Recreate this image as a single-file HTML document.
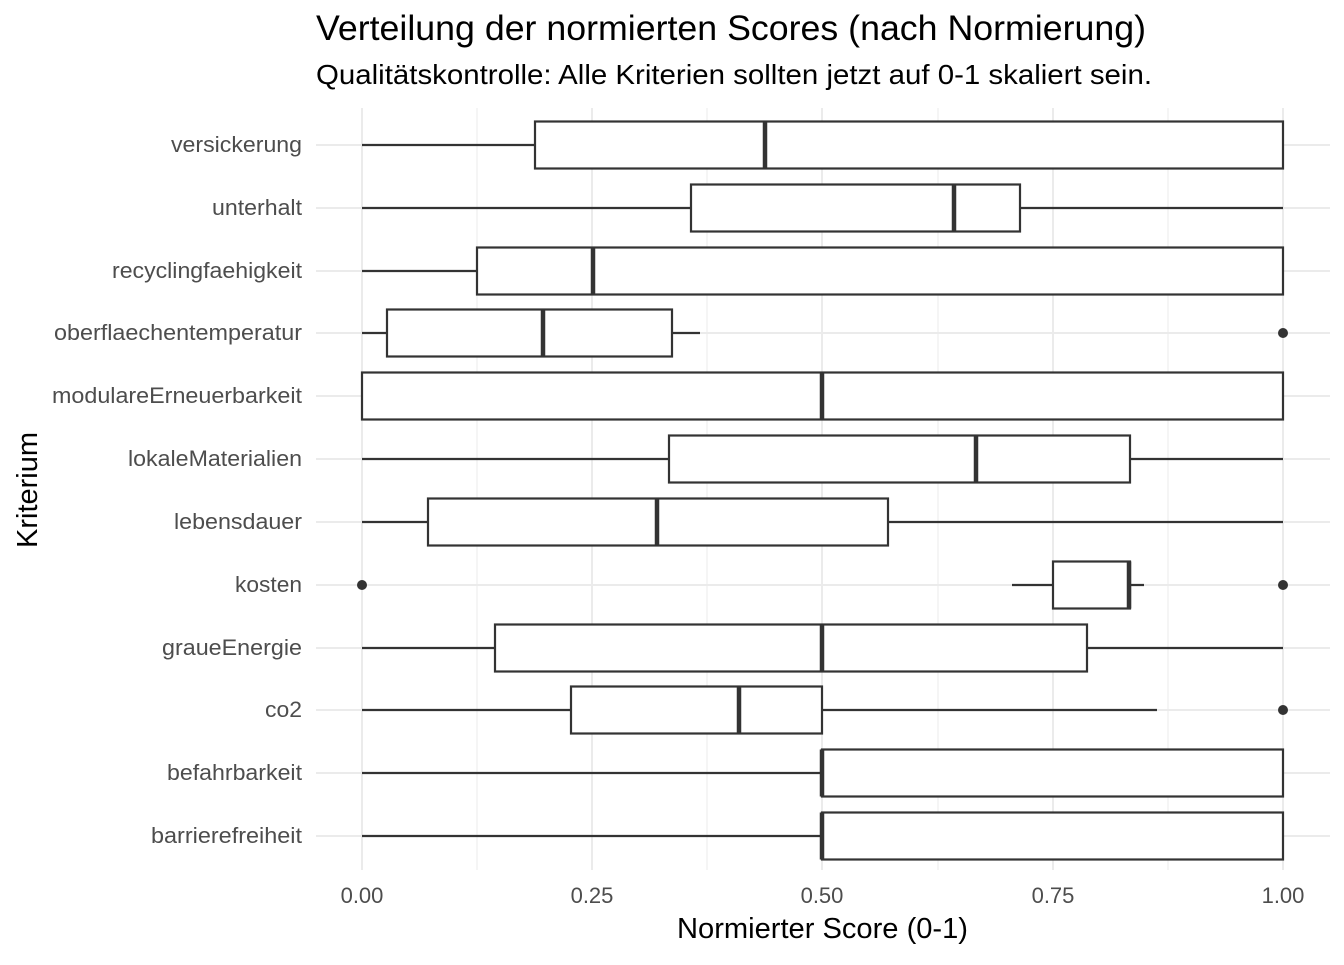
<!DOCTYPE html>
<html><head><meta charset="utf-8"><style>html,body{margin:0;padding:0;background:#fff}</style></head>
<body>
<svg width="1344" height="960" xmlns="http://www.w3.org/2000/svg" font-family="Liberation Sans, sans-serif">
<rect width="1344" height="960" fill="#fff"/>
<g stroke="#ebebeb" stroke-width="1">
<line x1="477" y1="108" x2="477" y2="870"/><line x1="707" y1="108" x2="707" y2="870"/>
<line x1="938" y1="108" x2="938" y2="870"/><line x1="1168" y1="108" x2="1168" y2="870"/>
</g>
<g stroke="#ebebeb" stroke-width="2">
<line x1="362" y1="108" x2="362" y2="870"/><line x1="592" y1="108" x2="592" y2="870"/>
<line x1="822" y1="108" x2="822" y2="870"/><line x1="1053" y1="108" x2="1053" y2="870"/>
<line x1="1283" y1="108" x2="1283" y2="870"/>
<line x1="316" y1="145" x2="1330" y2="145"/><line x1="316" y1="208" x2="1330" y2="208"/>
<line x1="316" y1="271" x2="1330" y2="271"/><line x1="316" y1="333" x2="1330" y2="333"/>
<line x1="316" y1="396" x2="1330" y2="396"/><line x1="316" y1="459" x2="1330" y2="459"/>
<line x1="316" y1="522" x2="1330" y2="522"/><line x1="316" y1="585" x2="1330" y2="585"/>
<line x1="316" y1="648" x2="1330" y2="648"/><line x1="316" y1="710" x2="1330" y2="710"/>
<line x1="316" y1="773" x2="1330" y2="773"/><line x1="316" y1="836" x2="1330" y2="836"/>
</g>
<g stroke="#333" stroke-width="2.2" fill="#fff">
<line x1="362" y1="145" x2="535" y2="145"/><rect x="535" y="121.5" width="748" height="47"/><line x1="765" y1="121.5" x2="765" y2="168.5" stroke-width="4.5"/>
<line x1="362" y1="208" x2="1283" y2="208"/><rect x="691" y="184.5" width="329" height="47"/><line x1="954" y1="184.5" x2="954" y2="231.5" stroke-width="4.5"/>
<line x1="362" y1="271" x2="477" y2="271"/><rect x="477" y="247.5" width="806" height="47"/><line x1="593" y1="247.5" x2="593" y2="294.5" stroke-width="4.5"/>
<line x1="362" y1="333" x2="700" y2="333"/><rect x="387" y="309.5" width="285" height="47"/><line x1="543" y1="309.5" x2="543" y2="356.5" stroke-width="4.5"/>
<circle cx="1283" cy="333" r="5" fill="#333" stroke="none"/>
<rect x="362" y="372.5" width="921" height="47"/><line x1="822" y1="372.5" x2="822" y2="419.5" stroke-width="4.5"/>
<line x1="362" y1="459" x2="1283" y2="459"/><rect x="669" y="435.5" width="461" height="47"/><line x1="976" y1="435.5" x2="976" y2="482.5" stroke-width="4.5"/>
<line x1="362" y1="522" x2="1283" y2="522"/><rect x="428" y="498.5" width="460" height="47"/><line x1="657" y1="498.5" x2="657" y2="545.5" stroke-width="4.5"/>
<line x1="1012" y1="585" x2="1144" y2="585"/><rect x="1053" y="561.5" width="77" height="47"/><line x1="1129" y1="561.5" x2="1129" y2="608.5" stroke-width="4.5"/>
<circle cx="362" cy="585" r="5" fill="#333" stroke="none"/><circle cx="1283" cy="585" r="5" fill="#333" stroke="none"/>
<line x1="362" y1="648" x2="1283" y2="648"/><rect x="495" y="624.5" width="592" height="47"/><line x1="822" y1="624.5" x2="822" y2="671.5" stroke-width="4.5"/>
<line x1="362" y1="710" x2="1157" y2="710"/><rect x="571" y="686.5" width="251" height="47"/><line x1="739" y1="686.5" x2="739" y2="733.5" stroke-width="4.5"/>
<circle cx="1283" cy="710" r="5" fill="#333" stroke="none"/>
<line x1="362" y1="773" x2="822" y2="773"/><rect x="822" y="749.5" width="461" height="47"/><line x1="822" y1="749.5" x2="822" y2="796.5" stroke-width="4.5"/>
<line x1="362" y1="836" x2="822" y2="836"/><rect x="822" y="812.5" width="461" height="47"/><line x1="822" y1="812.5" x2="822" y2="859.5" stroke-width="4.5"/>
</g>
<g font-size="22" fill="#4d4d4d" text-anchor="end" lengthAdjust="spacingAndGlyphs">
<text x="302" y="152" textLength="131" lengthAdjust="spacingAndGlyphs">versickerung</text>
<text x="302" y="215" textLength="90" lengthAdjust="spacingAndGlyphs">unterhalt</text>
<text x="302" y="278" textLength="190" lengthAdjust="spacingAndGlyphs">recyclingfaehigkeit</text>
<text x="302" y="340" textLength="248" lengthAdjust="spacingAndGlyphs">oberflaechentemperatur</text>
<text x="302" y="403" textLength="250" lengthAdjust="spacingAndGlyphs">modulareErneuerbarkeit</text>
<text x="302" y="466" textLength="174" lengthAdjust="spacingAndGlyphs">lokaleMaterialien</text>
<text x="302" y="529" textLength="128" lengthAdjust="spacingAndGlyphs">lebensdauer</text>
<text x="302" y="592" textLength="67" lengthAdjust="spacingAndGlyphs">kosten</text>
<text x="302" y="655" textLength="140" lengthAdjust="spacingAndGlyphs">graueEnergie</text>
<text x="302" y="717" textLength="37" lengthAdjust="spacingAndGlyphs">co2</text>
<text x="302" y="780" textLength="135" lengthAdjust="spacingAndGlyphs">befahrbarkeit</text>
<text x="302" y="843" textLength="151" lengthAdjust="spacingAndGlyphs">barrierefreiheit</text>
</g>
<g font-size="22" fill="#4d4d4d" text-anchor="middle">
<text x="362" y="903">0.00</text><text x="592" y="903">0.25</text><text x="822" y="903">0.50</text>
<text x="1053" y="903">0.75</text><text x="1283" y="903">1.00</text>
</g>
<text x="677" y="938" font-size="29" fill="#000" textLength="291" lengthAdjust="spacingAndGlyphs">Normierter Score (0-1)</text>
<text transform="translate(37,548) rotate(-90)" font-size="29" fill="#000" textLength="116" lengthAdjust="spacingAndGlyphs">Kriterium</text>
<text x="316" y="40" font-size="35" fill="#000" textLength="830" lengthAdjust="spacingAndGlyphs">Verteilung der normierten Scores (nach Normierung)</text>
<text x="316" y="84" font-size="28" fill="#000" textLength="836" lengthAdjust="spacingAndGlyphs">Qualitätskontrolle: Alle Kriterien sollten jetzt auf 0-1 skaliert sein.</text>
</svg>
</body></html>
